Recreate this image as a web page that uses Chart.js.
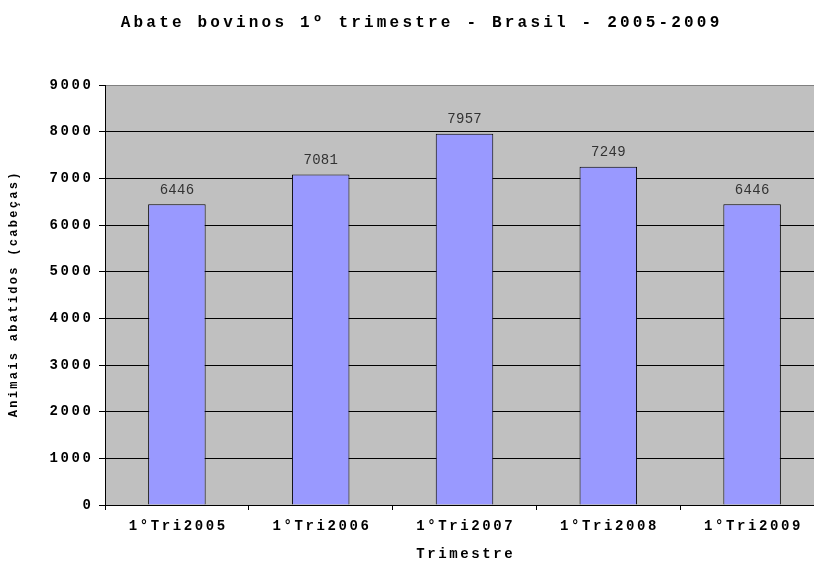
<!DOCTYPE html>
<html>
<head>
<meta charset="utf-8">
<script src="https://cdn.jsdelivr.net/npm/chart.js@4/dist/chart.umd.min.js"></script>
<style>
    html, body { margin: 0; padding: 0; background: #fff; overflow: hidden; }
    #wrap { width: 840px; height: 561px; position: relative; }
</style>
</head>
<body>
<div id="wrap"><canvas id="abate-chart"></canvas></div>
<script>
// Chart data
const trimestres = ["1°Tri2005", "1°Tri2006", "1°Tri2007", "1°Tri2008", "1°Tri2009"];
const abates = [6446, 7081, 7957, 7249, 6446];
const yTicks = [0, 1000, 2000, 3000, 4000, 5000, 6000, 7000, 8000, 9000];

const FONT = '"Liberation Mono", "Courier New", monospace';

// letter spacing per font (canvas letterSpacing drops the font here, so space chars by hand)
const spacingFor = (font) => {
    const size = parseFloat((font.match(/([\d.]+)px/) || [0, 0])[1]);
    const bold = /bold|700/.test(font);
    if (size >= 16) return 3.2;
    if (size >= 14) return bold ? 2.6 : 0.3;
    return 2.3;
};

const patchText = (ctx) => {
    if (ctx._spaced) return;
    ctx._spaced = true;
    const fill = ctx.fillText.bind(ctx);
    ctx.fillText = function (text, x, y) {
        const chars = [...String(text)];
        const sp = spacingFor(this.font);
        const widths = chars.map(c => this.measureText(c).width);
        const total = widths.reduce((a, b) => a + b, 0) + sp * (chars.length - 1);
        const align = this.textAlign;
        let cx = x;
        if (align === "center") cx = x - total / 2;
        else if (align === "right" || align === "end") cx = x - total;
        this.save();
        this.textAlign = "left";
        chars.forEach((c, i) => {
            fill(c, cx, y);
            cx += widths[i] + sp;
        });
        this.restore();
    };
};

// Grey plot background, spaced text and value labels
const excelLook = {
    id: "excelLook",
    beforeInit: (chart) => patchText(chart.ctx),
    beforeDraw: (chart) => {
        const {ctx, chartArea} = chart;
        ctx.save();
        ctx.fillStyle = "#C0C0C0";
        ctx.fillRect(chartArea.left, chartArea.top, chartArea.right - chartArea.left, chartArea.bottom - chartArea.top);
        ctx.restore();
    },
    afterDatasetsDraw: (chart) => {
        const {ctx} = chart;
        const meta = chart.getDatasetMeta(0);
        ctx.save();
        ctx.font = `14px ${FONT}`;
        ctx.fillStyle = "#333";
        ctx.textAlign = "center";
        ctx.textBaseline = "middle";
        meta.data.forEach((bar, i) => {
            ctx.fillText(String(abates[i]), bar.x, bar.y - 14);
        });
        ctx.restore();
    }
};

const config = {
    type: "bar",
    data: {
        labels: trimestres,
        datasets: [{
            data: abates,
            backgroundColor: "#9999FF",
            borderColor: "#000",
            borderWidth: 1,
            categoryPercentage: 1,
            barPercentage: 0.4
        }]
    },
    options: {
        responsive: true,
        maintainAspectRatio: false,
        animation: false,
        font: { family: FONT },
        layout: { padding: { left: 16, right: 16, top: 0, bottom: 0 } },
        plugins: {
            legend: { display: false },
            tooltip: { enabled: false },
            title: {
                display: true,
                text: "Abate bovinos 1º trimestre - Brasil - 2005-2009",
                color: "#000",
                font: { family: FONT, size: 16, weight: "bold", lineHeight: 1.2 },
                padding: { top: 13.4, bottom: 52.4 }
            }
        },
        scales: {
            x: {
                offset: true,
                grid: { display: true, drawOnChartArea: false, drawTicks: true, tickLength: 5, tickColor: "#000", offset: true },
                border: { color: "#000", width: 1 },
                ticks: { color: "#000", padding: 8, maxRotation: 0, font: { family: FONT, size: 14, weight: "bold" } },
                title: {
                    display: true,
                    text: "Trimestre",
                    color: "#000",
                    font: { family: FONT, size: 14, weight: "bold", lineHeight: 1 },
                    padding: { top: 0, bottom: 0 }
                },
                afterFit: (scale) => { scale.height = 56; }
            },
            y: {
                min: 0,
                max: 9000,
                afterBuildTicks: (scale) => { scale.ticks = yTicks.map(v => ({value: v})); },
                grid: {
                    color: (c) => (c.tick && c.tick.value === 9000 ? "#808080" : "#000"),
                    tickColor: "#000",
                    tickLength: 6
                },
                border: { color: "#000", width: 1 },
                ticks: {
                    color: "#000",
                    padding: 8,
                    font: { family: FONT, size: 14, weight: "bold" },
                    callback: (value) => String(value)
                },
                title: {
                    display: true,
                    text: "Animais abatidos (cabeças)",
                    color: "#000",
                    font: { family: FONT, size: 12, weight: "bold", lineHeight: 1.2 },
                    padding: { top: -9, bottom: 0 }
                },
                // plot starts at x=105 (16 layout padding + 89)
                afterFit: (scale) => { scale.width = 89; }
            }
        }
    },
    plugins: [excelLook]
};

new Chart(document.getElementById("abate-chart"), config);
</script>
</body>
</html>
